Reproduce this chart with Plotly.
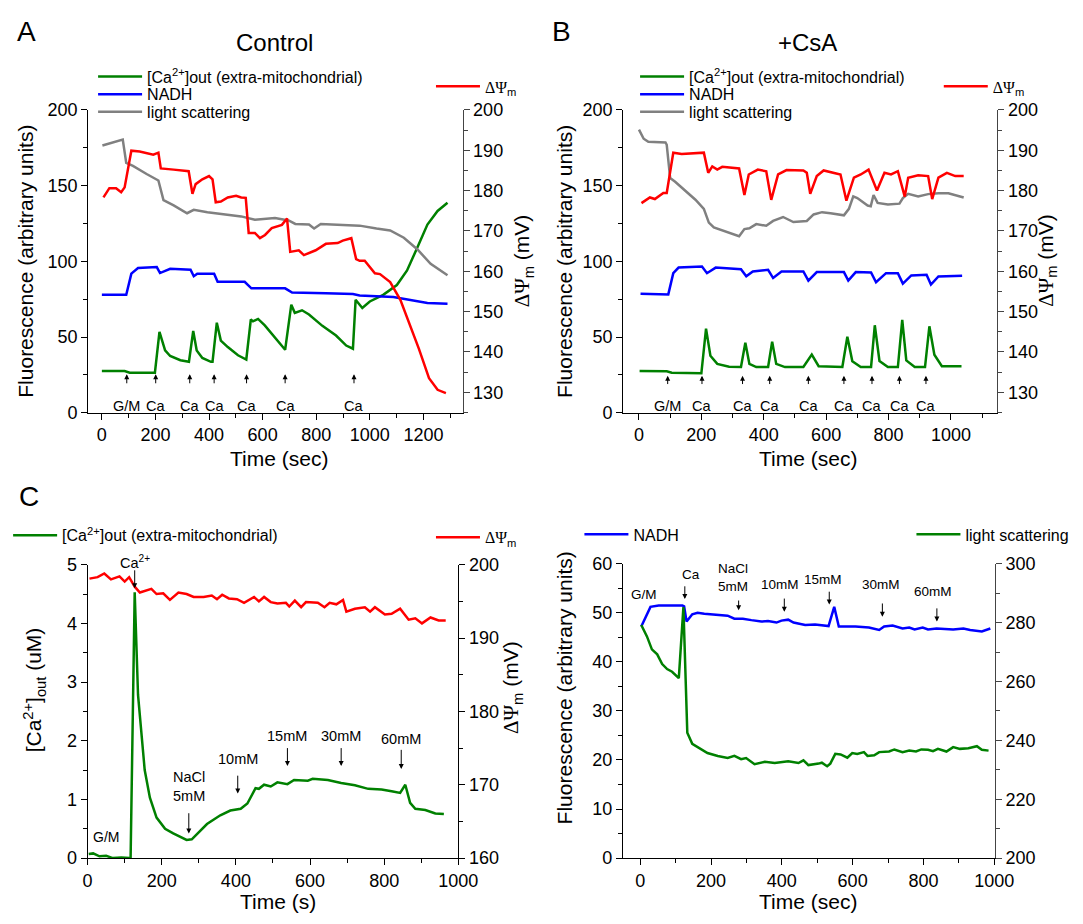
import plotly.graph_objects as go

FONT = "Liberation Sans, Arial, Helvetica, sans-serif"
GREEN, BLUE, RED, GRAY = "#008000", "#0000ff", "#ff0000", "#808080"

# ---------------- Panel A (Control) ----------------
a_ls_t = [2, 78, 91, 116, 167, 211, 230, 268, 318, 343, 394, 457, 520, 571, 646, 697, 722, 773, 792, 817, 899, 962, 1025, 1076, 1127, 1177, 1227, 1290]
a_ls_v = [176.5, 180.4, 165, 163, 157.7, 153.4, 140.5, 137, 131.8, 134, 132.5, 131, 129.7, 127.5, 128.6, 127, 124.7, 124.3, 121.7, 124.7, 124.3, 123.6, 121.7, 120.4, 115.6, 108, 98.4, 90.8]

a_ca_t = [0, 85, 104, 198, 215, 236, 255, 293, 325, 341, 354, 375, 407, 413, 429, 444, 470, 508, 539, 556, 564, 583, 608, 634, 659, 684, 707, 720, 747, 773, 823, 874, 912, 937, 947, 972, 1000, 1050, 1101, 1139, 1177, 1215, 1253, 1290]
a_ca_v = [27.6, 27.6, 26.5, 26.5, 53.5, 41.2, 37.5, 34.7, 33.7, 54, 41.2, 36.2, 33.7, 33.7, 59.5, 47.7, 43.4, 38, 35.2, 61.7, 60.4, 62, 57.7, 52.4, 47, 41.6, 71.4, 66, 67.7, 64.9, 57.4, 51, 44.4, 42.3, 74.6, 69.2, 73.5, 77.9, 84.4, 94, 109, 124.3, 133.3, 138.7]

a_nadh_t = [0, 91, 110, 135, 205, 217, 255, 331, 343, 356, 419, 432, 533, 558, 684, 710, 836, 937, 962, 1088, 1215, 1290]
a_nadh_v = [77.9, 77.9, 91.9, 95.6, 96.2, 92.3, 95.1, 94.5, 90.2, 91.9, 91.9, 86.5, 86.5, 82.2, 82.2, 79.4, 79, 78.5, 77.5, 76.4, 72.5, 72]

a_psi_t = [6, 28, 53, 72, 85, 110, 141, 192, 211, 220, 268, 324, 338, 350, 375, 400, 413, 425, 444, 470, 501, 520, 537, 548, 571, 590, 609, 634, 672, 691, 703, 735, 754, 798, 836, 880, 899, 931, 949, 962, 981, 1019, 1038, 1076, 1114, 1152, 1183, 1221, 1253, 1284]
a_psi_v = [178.3, 180.6, 180.6, 179.6, 180.8, 189.9, 189.7, 188.9, 189.4, 185.5, 185.2, 184.8, 179.2, 181.6, 182.8, 183.6, 182.8, 177.1, 177.3, 178.3, 178.7, 178.3, 178.2, 169.5, 169.5, 168.2, 169, 170.7, 171.5, 173.1, 164.8, 165.2, 164, 165.2, 166.8, 167, 167.6, 168.2, 163, 162.6, 162.6, 159.5, 159.3, 157.3, 152.9, 146.4, 140.8, 133.5, 130.6, 129.8]

a_add_t = [93, 201, 328, 419, 540, 684, 941]
a_add_lbl = ["G/M", "Ca", "Ca", "Ca", "Ca", "Ca", "Ca"]

# ---------------- Panel B (+CsA) ----------------
b_ls_t = [0, 15, 30, 85, 89, 100, 116, 148, 181, 208, 224, 240, 267, 289, 311, 321, 338, 354, 376, 408, 430, 462, 495, 538, 560, 587, 614, 657, 673, 687, 700, 733, 743, 752, 765, 798, 835, 846, 863, 895, 927, 960, 992, 1041]
b_ls_v = [187, 181, 179, 178.5, 177, 155, 152.6, 147, 140.7, 134.7, 125.6, 122.4, 120.3, 118.8, 117, 116.6, 121.3, 121.8, 124.6, 123.5, 126.7, 129.3, 126, 126.7, 131, 132.5, 131.7, 130.4, 134.7, 142.9, 141.8, 136.9, 136.4, 143.8, 138.6, 137.5, 138.1, 141.8, 144.6, 142.9, 144.4, 145, 145, 142.2]

b_psi_t = [8, 35, 51, 78, 89, 110, 137, 208, 222, 235, 251, 267, 321, 338, 352, 381, 408, 424, 446, 473, 527, 538, 549, 570, 592, 646, 665, 689, 711, 736, 763, 787, 808, 830, 852, 863, 895, 927, 940, 960, 987, 1014, 1041]
b_psi_v = [176.9, 178.3, 177.9, 179.4, 179.4, 189.4, 189.1, 189.4, 184.4, 186, 185.2, 185.9, 185.5, 178.9, 184, 185.2, 184.8, 177.7, 184, 185.1, 185, 184.4, 179.2, 183.6, 185, 184, 177.5, 183.2, 184, 185.2, 180, 184.4, 184, 184.8, 178.5, 183.2, 183.8, 183.6, 177.9, 183.2, 184.4, 183.6, 183.6]

b_nadh_t = [5, 94, 110, 127, 202, 218, 246, 327, 344, 365, 414, 430, 457, 527, 543, 570, 657, 671, 695, 744, 760, 792, 830, 846, 873, 922, 936, 960, 1036]
b_nadh_v = [78.7, 78.2, 92.2, 95.9, 96.6, 92.2, 95.9, 94.8, 90.1, 93.3, 94.4, 89, 93.3, 93.3, 87.3, 92.9, 92.9, 87.3, 92.9, 92.7, 86.2, 92.2, 92.2, 85.3, 90.7, 91.2, 84.7, 90, 90.5]

b_ca_t = [2, 89, 105, 200, 215, 229, 251, 289, 327, 341, 354, 376, 414, 427, 440, 468, 527, 554, 576, 652, 668, 684, 711, 744, 756, 771, 798, 830, 844, 857, 884, 917, 931, 947, 971, 1034]
b_ca_v = [27.6, 27.4, 26.5, 26.1, 55.6, 37.7, 32.3, 30.4, 30.2, 46.3, 32.3, 30.2, 30.2, 47, 32.3, 30.2, 30.2, 38.4, 30.8, 30.2, 50.2, 34, 30.2, 30.2, 57.8, 34.2, 30.2, 30.2, 61.4, 34.6, 30.2, 30.2, 57.1, 38.4, 30.8, 30.8]

b_add_t = [92, 202, 332, 419, 543, 657, 747, 835, 920]
b_add_lbl = ["G/M", "Ca", "Ca", "Ca", "Ca", "Ca", "Ca", "Ca", "Ca"]

# ---------------- Panel C ----------------
c_psi_t = [5, 27, 45, 63, 86, 100, 112, 127, 141, 154, 172, 186, 204, 222, 245, 267, 286, 313, 335, 349, 363, 381, 403, 422, 449, 462, 476, 494, 512, 535, 544, 559, 576, 589, 621, 639, 653, 671, 689, 698, 721, 748, 762, 775, 802, 820, 843, 866, 884, 902, 925, 947, 966]
c_psi_v = [198.1, 198.3, 198.8, 198, 198.4, 197.7, 198.3, 197, 196.2, 196.4, 196.7, 196, 196.1, 195.2, 196.2, 196, 195.6, 195.6, 195.8, 195.3, 195.9, 195.4, 195.3, 194.8, 195.6, 195, 195.6, 194.9, 194.7, 194.8, 194.3, 195.1, 194.2, 194.9, 194.8, 194.2, 194.8, 194.6, 195.2, 193.6, 194, 194.2, 193.6, 194.2, 193.2, 193.3, 194, 192.5, 192.7, 192, 192.8, 192.4, 192.4]

c_ca_t = [3, 15, 32, 50, 68, 91, 113, 116, 127, 136, 154, 168, 186, 209, 231, 267, 281, 322, 358, 385, 413, 431, 453, 462, 476, 494, 512, 539, 557, 594, 607, 648, 684, 721, 757, 793, 820, 843, 857, 870, 884, 911, 938, 961]
c_ca_v = [0.07, 0.08, 0.03, 0.04, 0.0, 0.01, 0.0, 0.0, 4.53, 2.78, 1.5, 1.03, 0.69, 0.5, 0.42, 0.31, 0.32, 0.58, 0.73, 0.81, 0.84, 0.93, 1.19, 1.18, 1.25, 1.22, 1.29, 1.26, 1.33, 1.32, 1.35, 1.33, 1.28, 1.24, 1.18, 1.17, 1.14, 1.11, 1.25, 0.94, 0.84, 0.82, 0.76, 0.75]

c_add_t = [127, 273, 405, 539, 684, 846]
c_add_lbl = ["Ca<sup>2+</sup>", "NaCl<br>5mM", "10mM", "15mM", "30mM", "60mM"]

# ---------------- Panel D ----------------
d_nadh_t = [3, 29, 52, 119, 124, 131, 147, 162, 181, 200, 214, 247, 266, 290, 314, 342, 361, 385, 399, 418, 433, 466, 494, 523, 532, 548, 561, 608, 646, 675, 689, 713, 741, 760, 775, 798, 813, 837, 884, 913, 932, 965, 989]
d_nadh_v = [47.2, 51.2, 51.5, 51.5, 51.3, 48.2, 49.7, 50, 49.8, 49.7, 49.5, 49.4, 48.8, 48.8, 48.5, 48.2, 48.3, 48, 48.4, 48.6, 48, 47.5, 47.6, 47.3, 47.3, 51.2, 47.2, 47.2, 47, 46.5, 47.2, 47.4, 46.8, 47, 46.6, 47, 46.6, 46.8, 46.6, 46.8, 46.5, 46.2, 46.8]

d_ls_t = [3, 19, 33, 48, 62, 76, 90, 105, 109, 122, 133, 147, 171, 190, 219, 247, 266, 285, 299, 323, 352, 380, 418, 447, 461, 475, 504, 513, 528, 537, 551, 566, 585, 599, 613, 632, 642, 661, 675, 703, 718, 741, 760, 779, 794, 813, 827, 841, 865, 884, 903, 927, 951, 965, 984]
d_ls_v = [279.2, 275.3, 270.9, 269.2, 265.9, 264.2, 263.3, 261.5, 261.1, 285.3, 242.6, 238.8, 237.1, 235.7, 234.7, 234, 234.7, 233.6, 234, 231.9, 232.7, 232.3, 232.9, 232.3, 233.2, 231.6, 232.1, 232.4, 231.2, 232.1, 235.4, 235.2, 234.1, 235.7, 235.4, 236, 234.7, 234.9, 236, 236.2, 236.9, 236, 236.5, 236.2, 236.9, 236.8, 236.3, 237.1, 236.2, 237.7, 237.1, 237.3, 238, 236.8, 236.5]

d_add_t = [126, 278, 407, 534, 684, 838]
d_add_lbl = ["Ca", "NaCl<br>5mM", "10mM", "15mM", "30mM", "60mM"]

# ---------------- Figure geometry (page has an 8px body margin) ----------------
OFF = 8
W, H = 1083 - 2 * OFF, 924 - 2 * OFF
def px(x):
    return (x - OFF) / W
def py(y):
    return 1 - (y - OFF) / H

fig = go.Figure()

def add(t, v, name, color, xa, ya, legend):
    fig.add_trace(go.Scatter(x=t, y=v, mode="lines", name=name, xaxis=xa, yaxis=ya,
                             legend=legend, line=dict(color=color, width=2.5)))

CA_NAME = "[Ca<sup>2+</sup>]out (extra-mitochondrial)"
PSI = '<span style="font-family:Liberation Serif">ΔΨ</span><sub>m</sub>'
add(a_ca_t, a_ca_v, CA_NAME, GREEN, "x", "y", "legend")
add(a_nadh_t, a_nadh_v, "NADH", BLUE, "x", "y", "legend2")
add(a_ls_t, a_ls_v, "light scattering", GRAY, "x", "y", "legend3")
add(a_psi_t, a_psi_v, PSI, RED, "x", "y2", "legend4")

add(b_ca_t, b_ca_v, CA_NAME, GREEN, "x2", "y3", "legend5")
add(b_nadh_t, b_nadh_v, "NADH", BLUE, "x2", "y3", "legend6")
add(b_ls_t, b_ls_v, "light scattering", GRAY, "x2", "y3", "legend7")
add(b_psi_t, b_psi_v, PSI, RED, "x2", "y4", "legend8")

add(c_ca_t, c_ca_v, CA_NAME, GREEN, "x3", "y5", "legend9")
add(c_psi_t, c_psi_v, PSI, RED, "x3", "y6", "legend10")

add(d_nadh_t, d_nadh_v, "NADH", BLUE, "x4", "y7", "legend11")
add(d_ls_t, d_ls_v, "light scattering", GREEN, "x4", "y8", "legend12")

TICKF = dict(family=FONT, size=18, color="black")

def xax(dom, anchor, rng):
    return dict(domain=dom, anchor=anchor, range=rng, tick0=0, dtick=200, ticks="outside",
                ticklen=6, tickcolor="black", showline=True, linecolor="black", linewidth=1,
                showgrid=False, zeroline=False, tickfont=TICKF,
                minor=dict(ticks="outside", ticklen=4, dtick=100, tick0=0, tickcolor="black", showgrid=False))

def yax(dom, anchor, rng, tick0, dtick, mdtick, side="left", overlay=None, color="black"):
    d = dict(anchor=anchor, range=rng, tick0=tick0, dtick=dtick, ticks="outside", ticklen=6,
             tickcolor=color, showline=True, linecolor=color, linewidth=1, showgrid=False,
             zeroline=False, tickfont=TICKF, side=side,
             minor=dict(ticks="outside", ticklen=4, dtick=mdtick, tick0=tick0, tickcolor=color, showgrid=False))
    if overlay:
        d["overlaying"] = overlay
    else:
        d["domain"] = dom
    return d

xa_dom = [px(85), px(468.3)]
xb_dom = [px(632.7), px(1016)]
xc_dom = [px(84.4), px(464)]
xd_dom = [px(632.5), px(1013.5)]
yab_dom = [py(411.7), py(102)]
yc_dom = [py(867), py(567)]
yd_dom = [py(867), py(566)]

fig.update_layout(
    xaxis=xax(xa_dom, "y", [-51, 1346]),
    yaxis=yax(yab_dom, "x", [0, 200], 0, 50, 25),
    yaxis2=yax(None, "x", [124.9, 200], 130, 10, 5, side="right", overlay="y", color="#444"),
    xaxis2=xax(xb_dom, "y3", [-51, 1149]),
    yaxis3=yax(yab_dom, "x2", [0, 200], 0, 50, 25),
    yaxis4=yax(None, "x2", [124.9, 200], 130, 10, 5, side="right", overlay="y3", color="#444"),
    xaxis3=xax(xc_dom, "y5", [0, 1000]),
    yaxis5=yax(yc_dom, "x3", [0, 5], 0, 1, 0.5),
    yaxis6=yax(None, "x3", [160, 200], 160, 10, 5, side="right", overlay="y5"),
    xaxis4=xax(xd_dom, "y7", [-49, 1002]),
    yaxis7=yax(yd_dom, "x4", [0, 60], 0, 10, 5),
    yaxis8=yax(None, "x4", [200, 300], 200, 20, 10, side="right", overlay="y7", color="#444"),
)

# one legend per entry, positioned where the reference shows it (line start x, centre y)
LEG_POS = {
    "legend": (95, 68), "legend2": (95, 86), "legend3": (95, 104), "legend4": (441, 78),
    "legend5": (650, 68), "legend6": (650, 86), "legend7": (650, 104), "legend8": (961, 78),
    "legend9": (8, 537), "legend10": (441, 539),
    "legend11": (593, 536), "legend12": (933, 536),
}
legs = {}
for k, (x, y) in LEG_POS.items():
    legs[k] = dict(x=px(x - 5), y=py(y), xanchor="left", yanchor="middle", bgcolor="rgba(0,0,0,0)",
                   font=dict(family=FONT, size=16, color="black"), itemwidth=44,
                   itemclick=False, itemdoubleclick=False)
fig.update_layout(**legs)

ann = []
def arrow(xr, yr, x, y0, y1):
    ann.append(dict(xref=xr, yref=yr, axref=xr, ayref=yr, x=x, y=y1, ax=x, ay=y0, text="",
                    showarrow=True, arrowhead=2, arrowsize=1, arrowwidth=1, arrowcolor="black", standoff=0))

def label(xr, yr, x, y, text, size):
    ann.append(dict(xref=xr, yref=yr, x=x, y=y, text=text, showarrow=False,
                    xanchor="center", yanchor="middle",
                    font=dict(family=FONT, size=size, color="black")))

for t, l in zip(a_add_t, a_add_lbl):
    arrow("x", "y", t, 18.5, 25.5)
    label("x", "y", t, 4.5, l, 14.5)
for t, l in zip(b_add_t, b_add_lbl):
    arrow("x2", "y3", t, 18.0, 24.5)
    label("x2", "y3", t, 4.3, l, 14.5)

c_arrow_top = [4.93, 0.79, 1.43, 1.9, 1.9, 1.87]
c_arrow_tip = [4.6, 0.42, 1.1, 1.57, 1.57, 1.52]
c_lbl_y = [None, 1.22, 1.69, 2.08, 2.08, 2.03]
for t, l, a0, a1, ly in zip(c_add_t, c_add_lbl, c_arrow_top, c_arrow_tip, c_lbl_y):
    arrow("x3", "y5", t, a0, a1)
    if ly is None:
        label("x3", "y5 domain", t, 1.01, l, 14.5)
    else:
        label("x3", "y5", t, ly, l, 14.5)
label("x3", "y5", 50, 0.36, "G/M", 14)

d_arrow_top = [55.7, 52.8, 53.2, 54.6, 52.2, 51.2]
d_arrow_tip = [52.8, 50.5, 50.2, 51.7, 49.2, 48.2]
d_lbl_x = [143, 263, 394, 515, 680, 827]
d_lbl_y = [57.7, 57.1, 55.8, 56.8, 55.7, 54.3]
for t, l, a0, a1, lx, ly in zip(d_add_t, d_add_lbl, d_arrow_top, d_arrow_tip, d_lbl_x, d_lbl_y):
    arrow("x4", "y7", t, a0, a1)
    label("x4", "y7", lx, ly, l, 13.5)
label("x4", "y7", 10, 53.7, "G/M", 13.5)

def ptext(x, y, text, size, angle=0):
    ann.append(dict(xref="paper", yref="paper", x=px(x), y=py(y), text=text, showarrow=False,
                    xanchor="center", yanchor="middle", textangle=angle,
                    font=dict(family=FONT, size=size, color="black")))

# panel letters and titles
ptext(22, 22, "A", 28)
ptext(570, 22, "B", 28)
ptext(24, 497, "C", 28)
ptext(276, 33, "Control", 24)
ptext(822, 33, "+CsA", 24)

# axis titles
FL = "Fluorescence (arbitrary units)"
PSI_AX = '<span style="font-family:Liberation Serif">ΔΨ</span><sub>m</sub> (mV)'
ptext(20.5, 257, FL, 21, -90)
ptext(530, 256, PSI_AX, 21, -90)
ptext(280, 458, "Time (sec)", 21)
ptext(572.6, 257, FL, 21, -90)
ptext(1066, 256, PSI_AX, 21, -90)
ptext(822, 458, "Time (sec)", 21)
ptext(30, 695, "[Ca<sup>2+</sup>]<sub>out</sub> (uM)", 21, -90)
ptext(519, 693, PSI_AX, 21, -90)
ptext(279, 911, "Time (s)", 21)
ptext(572.7, 693, FL, 21, -90)
ptext(822.4, 911, "Time (sec)", 21)

fig.update_layout(annotations=ann, width=W, height=H, margin=dict(l=0, r=0, t=0, b=0),
                  plot_bgcolor="white", paper_bgcolor="white", showlegend=True,
                  font=dict(family=FONT, color="black"))

fig.write_html("out.html", config={"displayModeBar": False, "responsive": False})
